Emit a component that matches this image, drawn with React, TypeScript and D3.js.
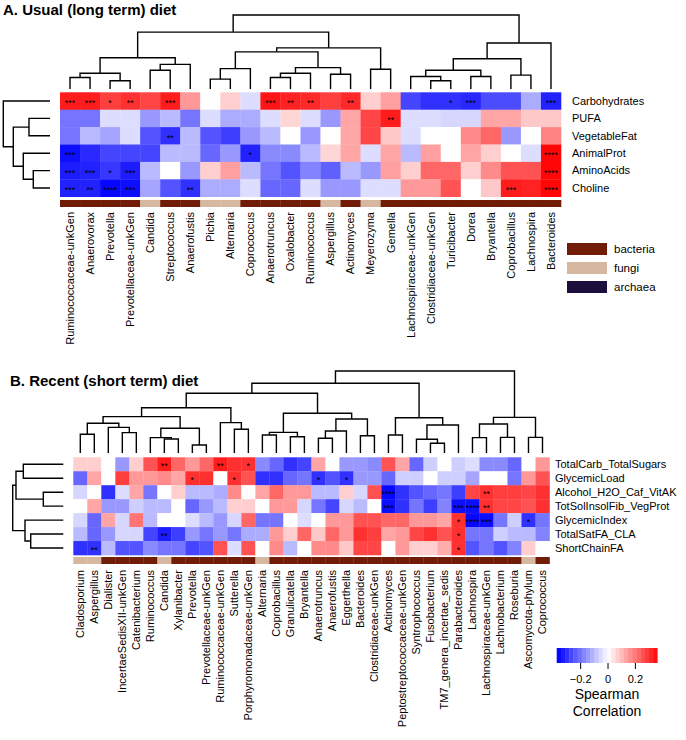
import * as d3 from 'd3';

// ---------- data: panel A (usual diet) ----------
const dietA = ['Carbohydrates', 'PUFA', 'VegetableFat', 'AnimalProt', 'AminoAcids', 'Choline'];
const taxaA = ['Ruminococcaceae-unkGen', 'Anaerovorax', 'Prevotella', 'Prevotellaceae-unkGen', 'Candida',
  'Streptococcus', 'Anaerofustis', 'Pichia', 'Alternaria', 'Coprococcus', 'Anaerotruncus', 'Oxalobacter',
  'Ruminococcus', 'Aspergillus', 'Actinomyces', 'Meyerozyma', 'Gemella', 'Lachnospiraceae-unkGen',
  'Clostridiaceae-unkGen', 'Turicibacter', 'Dorea', 'Bryantella', 'Coprobacillus', 'Lachnospira', 'Bacteroides'];
const kingdomA = ['bacteria', 'bacteria', 'bacteria', 'bacteria', 'fungi', 'bacteria', 'bacteria', 'fungi', 'fungi',
  'bacteria', 'bacteria', 'bacteria', 'bacteria', 'fungi', 'bacteria', 'fungi', 'bacteria', 'bacteria', 'bacteria',
  'bacteria', 'bacteria', 'bacteria', 'bacteria', 'bacteria', 'bacteria'];
const rhoA = [
  [0.33, 0.33, 0.28, 0.30, 0.27, 0.33, 0.15, 0.0, 0.07, -0.05, 0.34, 0.32, 0.31, 0.28, 0.31, 0.07, 0.14, -0.27, -0.30, -0.30, -0.31, -0.26, -0.26, -0.12, -0.32],
  [-0.20, -0.20, -0.05, -0.05, -0.15, -0.10, -0.20, -0.05, -0.12, -0.12, -0.05, 0.06, -0.05, -0.15, 0.13, 0.27, 0.33, -0.05, -0.05, -0.06, -0.06, 0.13, 0.13, 0.08, 0.08],
  [-0.20, -0.10, -0.13, -0.05, -0.25, -0.30, -0.10, -0.25, -0.28, -0.15, -0.10, 0.0, -0.15, 0.0, 0.13, 0.27, 0.08, -0.05, 0.0, 0.0, 0.17, 0.22, -0.15, 0.0, 0.18],
  [-0.35, -0.31, -0.27, -0.27, -0.27, -0.10, -0.10, -0.22, -0.15, -0.32, -0.17, -0.17, -0.10, 0.06, 0.13, -0.05, 0.13, -0.10, 0.14, 0.0, 0.13, 0.07, 0.0, -0.05, 0.36],
  [-0.33, -0.32, -0.29, -0.33, -0.10, 0.0, -0.15, 0.07, 0.14, -0.10, -0.20, -0.25, -0.18, -0.23, -0.10, -0.15, 0.14, 0.07, 0.22, 0.22, 0.07, 0.17, 0.25, 0.25, 0.36],
  [-0.32, -0.32, -0.36, -0.35, -0.13, -0.25, -0.30, -0.12, -0.12, -0.05, -0.22, -0.22, -0.05, -0.15, -0.15, -0.05, -0.05, 0.15, 0.15, 0.25, 0.0, 0.08, 0.33, 0.32, 0.36],
];
// [row, col, significance]
const starsA: [number, number, string][] = [
  [0, 0, '***'], [0, 1, '***'], [0, 2, '*'], [0, 3, '**'], [0, 5, '***'], [0, 10, '***'], [0, 11, '**'],
  [0, 12, '**'], [0, 14, '**'], [0, 19, '*'], [0, 20, '***'], [0, 24, '***'],
  [1, 16, '**'], [2, 5, '**'],
  [3, 0, '***'], [3, 9, '*'], [3, 24, '****'],
  [4, 0, '***'], [4, 1, '***'], [4, 2, '*'], [4, 3, '***'], [4, 24, '****'],
  [5, 0, '***'], [5, 1, '**'], [5, 2, '****'], [5, 3, '***'], [5, 6, '**'], [5, 22, '***'], [5, 24, '****'],
];
// dendrograms: leaf = index, node = [left, right, height]
type Tree = number | [Tree, Tree, number];
const colTreeA: Tree = [
  [
    [[[0, 1, 0.156], [2, 3, 0.111], 0.213], [[4, 5, 0.253], 6, 0.333], 0.422],
    [[[[7, 8, 0.133], 9, 0.276], [[[10, 11, 0.156], 12, 0.213], [13, 14, 0.2], 0.289], 0.502], [15, 16, 0.267], 0.556],
    0.769,
  ],
  [[[[17, [18, 19, 0.111], 0.169], [20, 21, 0.169], 0.253], [22, 23, 0.187], 0.409], 24, 0.622],
  1.0,
];
const rowTreeA: Tree = [0, [[1, 2, 0.45], [3, [4, 5, 0.358], 0.572], 0.786], 1.0];

// ---------- data: panel B (recent diet) ----------
const dietB = ['TotalCarb_TotalSugars', 'GlycemicLoad', 'Alcohol_H2O_Caf_VitAK', 'TotSolInsolFib_VegProt',
  'GlycemicIndex', 'TotalSatFA_CLA', 'ShortChainFA'];
const taxaB = ['Cladosporium', 'Aspergillus', 'Dialister', 'IncertaeSedisXII-unkGen', 'Catenibacterium',
  'Ruminococcus', 'Candida', 'Xylanibacter', 'Prevotella', 'Prevotellaceae-unkGen', 'Ruminococcaceae-unkGen',
  'Sutterella', 'Porphyromonadaceae-unkGen', 'Alternaria', 'Coprobacillus', 'Granulicatella', 'Bryantella',
  'Anaerotruncus', 'Anaerofustis', 'Eggerthella', 'Bacteroides', 'Clostridiaceae-unkGen', 'Actinomyces',
  'Peptostreptococcaceae-unkGen', 'Syntrophococcus', 'Fusobacterium', 'TM7_genera_incertae_sedis',
  'Parabacteroides', 'Lachnospira', 'Lachnospiraceae-unkGen', 'Lachnobacterium', 'Roseburia',
  'Ascomycota-phylum', 'Coprococcus'];
const kingdomB = ['fungi', 'fungi', 'bacteria', 'bacteria', 'bacteria', 'bacteria', 'fungi', 'bacteria', 'bacteria',
  'bacteria', 'bacteria', 'bacteria', 'bacteria', 'fungi', 'bacteria', 'bacteria', 'bacteria', 'bacteria', 'bacteria',
  'bacteria', 'bacteria', 'bacteria', 'bacteria', 'bacteria', 'bacteria', 'bacteria', 'bacteria', 'bacteria',
  'bacteria', 'bacteria', 'bacteria', 'bacteria', 'fungi', 'bacteria'];
const rhoB = [
  [0.07, 0.07, 0, -0.15, 0.07, 0.25, 0.33, 0.22, 0.15, 0.22, 0.33, 0.30, 0.30, -0.17, -0.22, -0.30, -0.27, 0.13, 0, -0.15, -0.15, -0.17, 0.25, 0.13, -0.22, -0.07, 0, -0.07, -0.05, -0.17, -0.17, -0.22, 0, 0.15],
  [-0.22, 0.13, 0, 0.28, 0.15, 0.15, 0.17, 0.13, 0.30, 0.30, 0, 0.30, 0.25, -0.30, -0.30, -0.22, -0.20, -0.30, -0.25, -0.30, -0.15, -0.15, -0.22, -0.07, -0.07, 0, -0.07, -0.07, -0.13, 0, 0, -0.20, 0.15, 0.25],
  [-0.06, 0, -0.30, -0.05, 0.13, -0.20, 0, 0.07, -0.10, -0.10, -0.12, 0.17, 0, 0.13, 0.22, 0.15, 0.15, -0.10, -0.10, 0.07, -0.06, 0.25, -0.36, -0.30, -0.25, -0.22, -0.20, -0.28, 0.27, 0.30, 0.28, 0.28, 0.27, 0.30],
  [0, 0.13, -0.15, -0.15, -0.07, -0.10, -0.10, 0, -0.22, -0.15, -0.10, 0.07, 0.07, 0, 0.15, 0.15, -0.06, -0.20, -0.27, -0.06, -0.10, 0, -0.35, -0.30, -0.20, -0.28, -0.18, -0.35, -0.35, 0.30, 0.27, 0.27, 0.25, 0.30],
  [-0.06, -0.22, 0.13, -0.06, 0.20, -0.10, 0, 0, -0.05, -0.10, -0.15, -0.06, 0.22, -0.20, -0.20, 0, -0.05, 0, 0.15, 0.15, 0.25, 0.25, 0.22, 0.22, 0.15, 0.15, 0.13, 0.30, -0.36, -0.35, -0.20, -0.07, -0.30, -0.20],
  [-0.10, -0.22, -0.15, -0.06, -0.06, -0.27, -0.33, -0.28, -0.15, -0.20, -0.15, -0.20, -0.12, -0.12, 0.15, 0.07, 0.22, 0.08, 0.22, 0.15, 0.30, 0.28, 0.13, 0.15, 0.27, 0.30, 0.25, 0.30, -0.20, -0.20, -0.07, -0.10, -0.10, -0.18],
  [-0.30, -0.30, -0.10, -0.25, -0.25, -0.17, -0.20, -0.20, -0.27, -0.25, 0.25, -0.05, 0.25, 0, 0.17, -0.10, 0, 0.17, 0.17, 0.08, 0.27, 0.27, 0, 0.15, 0.07, 0.07, 0.12, 0.30, -0.25, -0.20, -0.25, -0.18, 0.07, 0],
];
const starsB: [number, number, string][] = [
  [0, 6, '**'], [0, 10, '**'], [0, 12, '*'],
  [1, 8, '*'], [1, 11, '*'], [1, 17, '*'], [1, 19, '*'],
  [2, 22, '****'], [2, 29, '**'],
  [3, 22, '***'], [3, 27, '***'], [3, 28, '****'], [3, 29, '**'],
  [4, 27, '*'], [4, 28, '****'], [4, 29, '***'], [4, 32, '*'],
  [5, 6, '**'], [5, 27, '*'],
  [6, 1, '**'], [6, 27, '*'],
];
const colTreeB: Tree = [
  [
    [
      [
        [[[0, 1, 0.228], [2, [3, 4, 0.248], 0.313], 0.362], [[5, [6, 7, 0.171], 0.187], [8, 9, 0.098], 0.301], 0.443],
        [10, [11, 12, 0.289], 0.37],
        0.552,
      ],
      [[[13, 14, 0.22], [15, 16, 0.199], 0.252], [[[17, 18, 0.179], 19, 0.268], [20, 21, 0.211], 0.415], 0.484],
      0.728,
    ],
    [[22, 23, 0.22], [[24, [25, 26, 0.118], 0.167], 27, 0.341], 0.43],
    0.85,
  ],
  [[[28, 29, 0.187], [30, 31, 0.191], 0.354], [32, 33, 0.191], 0.435],
  1.0,
];
const rowTreeB: Tree = [[[0, 1, 0.79], [2, 3, 0.395], 0.935], [4, [5, 6, 0.644], 0.757], 1.0];

// ---------- legend data ----------
const kingdoms = ['bacteria', 'fungi', 'archaea'];
const kingdomColors = ['#701c06', '#d6b7a0', '#1c0f3e'];
const legendTicks = [-0.2, 0, 0.2];

const FONT = "'Liberation Sans', Arial, Helvetica, sans-serif";
const color = d3.scaleLinear<string>().domain([-0.37, 0, 0.37]).range(['#0000ff', '#ffffff', '#ff0000']).clamp(true);
const kColor = d3.scaleOrdinal<string, string>().domain(kingdoms).range(kingdomColors);

function dendroPaths(tree: Tree, leaf: (i: number) => number, hgt: (h: number) => number, top: boolean): string[] {
  const out: string[] = [];
  const walk = (t: Tree): { p: number; h: number } => {
    if (typeof t === 'number') return { p: leaf(t), h: 0 };
    const a = walk(t[0]);
    const b = walk(t[1]);
    const h = t[2];
    if (top) {
      out.push(`M${a.p},${hgt(a.h)}V${hgt(h)}H${b.p}V${hgt(b.h)}`);
    } else {
      out.push(`M${hgt(a.h)},${a.p}H${hgt(h)}V${b.p}H${hgt(b.h)}`);
    }
    return { p: (a.p + b.p) / 2, h };
  };
  walk(tree);
  return out;
}

type PanelProps = {
  rows: string[]; cols: string[]; kingdom: string[]; rho: number[][]; stars: [number, number, string][];
  colTree: Tree; rowTree: Tree;
  x0: number; x1: number; y0: number; y1: number;
  colTop: number; colLeaf: number; rowRoot: number; rowLeaf: number;
  barY: number; barH: number; labelX: number; labelY: number;
};

function Panel(p: PanelProps) {
  const x = d3.scaleBand<number>().domain(d3.range(p.cols.length)).range([p.x0, p.x1]);
  const y = d3.scaleBand<number>().domain(d3.range(p.rows.length)).range([p.y0, p.y1]);
  const colH = d3.scaleLinear().domain([0, 1]).range([p.colLeaf, p.colTop]);
  const rowH = d3.scaleLinear().domain([0, 1]).range([p.rowLeaf, p.rowRoot]);
  const bw = x.bandwidth();
  const bh = y.bandwidth();
  const colPaths = dendroPaths(p.colTree, (i) => (x(i) as number) + bw / 2, colH, true);
  const rowPaths = dendroPaths(p.rowTree, (i) => (y(i) as number) + bh / 2, rowH, false);
  return (
    <g>
      {colPaths.concat(rowPaths).map((d, i) => (
        <path key={'d' + i} d={d} fill="none" stroke="#000" strokeWidth={1.4} />
      ))}
      {p.rho.map((row, r) =>
        row.map((v, c) => (
          <rect key={`c${r}-${c}`} x={x(c)} y={y(r)} width={bw + 0.3} height={bh + 0.3} fill={color(v)} />
        ))
      )}
      {p.stars.map(([r, c, s], i) => (
        <text key={'s' + i} x={(x(c) as number) + bw / 2} y={(y(r) as number) + bh / 2 + 5}
          textAnchor="middle" fontSize={9} fontFamily={FONT} fill="#000">{s}</text>
      ))}
      {p.kingdom.map((k, c) => (
        <rect key={'k' + c} x={x(c)} y={p.barY} width={bw + 0.3} height={p.barH} fill={kColor(k)} />
      ))}
      {p.rows.map((name, r) => (
        <text key={'r' + r} x={p.labelX} y={(y(r) as number) + bh / 2} dy="0.35em"
          fontSize={11} fontFamily={FONT}>{name}</text>
      ))}
      {p.cols.map((name, c) => (
        <text key={'t' + c} transform={`translate(${(x(c) as number) + bw / 2},${p.labelY}) rotate(-90)`}
          dy="0.35em" textAnchor="end" fontSize={11} fontFamily={FONT}>{name}</text>
      ))}
    </g>
  );
}

export default function App() {
  const lx = d3.scaleLinear().domain([-0.375, 0.36]).range([556.7, 657.3]);
  const steps = d3.range(24).map((i) => -0.375 + (i * 0.735) / 24);
  const stepW = 0.735 / 24;
  const fmt = (t: number) => (t === 0 ? '0' : d3.format('.1f')(t));
  return (
    <svg width={686} height={740} style={{ position: 'absolute', left: 0, top: 0, background: '#fff' }}>
      <rect width={686} height={740} fill="#fff" />
      <text x={3} y={15} fontSize={15} fontWeight="bold"
        fontFamily="'Liberation Sans Narrow', 'Liberation Sans', Arial, sans-serif">A. Usual (long term) diet</text>
      <Panel rows={dietA} cols={taxaA} kingdom={kingdomA} rho={rhoA} stars={starsA}
        colTree={colTreeA} rowTree={rowTreeA}
        x0={60} x1={561} y0={92.3} y1={196.7}
        colTop={15} colLeaf={89} rowRoot={3.3} rowLeaf={50}
        barY={200} barH={7} labelX={572} labelY={212} />
      {kingdoms.map((k, i) => (
        <g key={k}>
          <rect x={567} y={243 + i * 19} width={40} height={12} fill={kColor(k)} />
          <text x={614} y={249 + i * 19} dy="0.35em" fontSize={11.5} fontFamily={FONT}>{k}</text>
        </g>
      ))}

      <text x={10} y={386} fontSize={15} fontWeight="bold"
        fontFamily="'Liberation Sans Narrow', 'Liberation Sans', Arial, sans-serif">B. Recent (short term) diet</text>
      <Panel rows={dietB} cols={taxaB} kingdom={kingdomB} rho={rhoB} stars={starsB}
        colTree={colTreeB} rowTree={rowTreeB}
        x0={73.3} x1={549.5} y0={457.3} y1={555}
        colTop={371} colLeaf={453} rowRoot={12.7} rowLeaf={63.3}
        barY={557} barH={7} labelX={555} labelY={570} />

      {/* colour key */}
      {steps.map((v, i) => (
        <rect key={'lg' + i} x={lx(v)} y={648} width={lx(v + stepW) - lx(v) + 0.3} height={15}
          fill={color(v + stepW / 2)} />
      ))}
      {legendTicks.map((t) => (
        <g key={'tk' + t}>
          <line x1={lx(t)} x2={lx(t)} y1={663} y2={669} stroke="#000" strokeWidth={1} />
          <text x={lx(t)} y={683} textAnchor="middle" fontSize={11} fontFamily={FONT}>{fmt(t)}</text>
        </g>
      ))}
      <text x={607} y={699} textAnchor="middle" fontSize={14} fontFamily={FONT}>Spearman</text>
      <text x={607} y={716} textAnchor="middle" fontSize={14} fontFamily={FONT}>Correlation</text>
    </svg>
  );
}
